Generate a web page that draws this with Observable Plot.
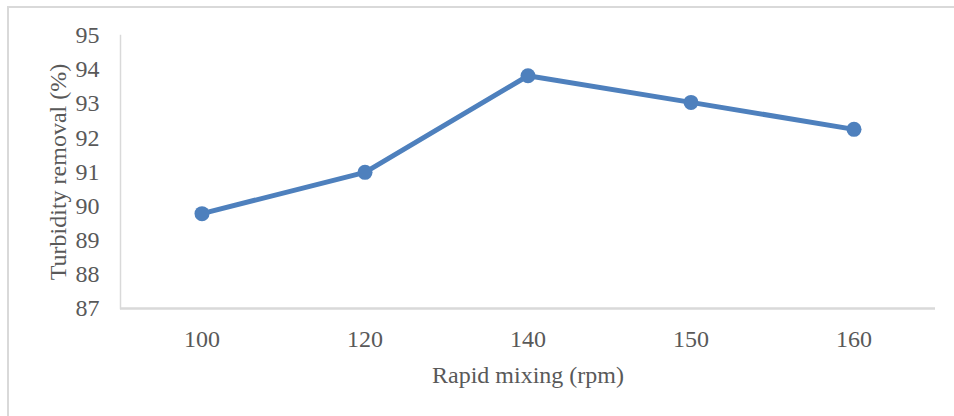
<!DOCTYPE html>
<html>
<head>
<meta charset="utf-8">
<script src="https://cdn.jsdelivr.net/npm/d3@7"></script>
<script src="https://cdn.jsdelivr.net/npm/@observablehq/plot@0.6"></script>
<style>
  html, body { margin: 0; padding: 0; background: #fff; overflow: hidden; width: 954px; height: 416px; }
  #wrap { position: relative; width: 954px; height: 416px; }
  #border { position: absolute; left: 7px; top: 6px; width: 1000px; height: 500px; border-left: 2px solid #d9d9d9; border-top: 2px solid #d9d9d9; box-sizing: border-box; }
  #chart { position: absolute; left: 0; top: 0; }
</style>
</head>
<body>
<div id="wrap"><div id="border"></div><div id="chart"></div></div>
<script>
const speeds = ["100", "120", "140", "150", "160"];
const removal = [89.78, 90.99, 93.82, 93.04, 92.25];
const yTicks = [87, 88, 89, 90, 91, 92, 93, 94, 95];

const data = speeds.map((s, i) => ({speed: s, value: removal[i]}));
const textColor = "#595959";
const font = "'Liberation Serif', 'Times New Roman', serif";
const fs = 24;

const chart = Plot.plot({
  width: 954,
  height: 416,
  marginLeft: 120,
  marginRight: 19,
  marginTop: 35,
  marginBottom: 108,
  style: {fontFamily: font, fontSize: fs + "px", color: textColor, background: "transparent", overflow: "visible"},
  x: {type: "band", domain: speeds, padding: 0, label: null},
  y: {domain: [87, 95], label: null},
  marks: [
    Plot.frame({anchor: "left", stroke: "#d9d9d9", strokeWidth: 1.5, strokeOpacity: 1}),
    Plot.ruleY([87], {stroke: "#d9d9d9", strokeWidth: 2.5}),
    Plot.axisY({ticks: yTicks, tickSize: 0, tickPadding: 21, fontSize: fs, fill: textColor, label: null}),
    Plot.axisX({tickSize: 0, tickPadding: 21, fontSize: fs, fill: textColor, label: null}),
    Plot.line(data, {x: "speed", y: "value", stroke: "#4e80bd", strokeWidth: 5}),
    Plot.dot(data, {x: "speed", y: "value", fill: "#4e80bd", r: 7.5}),
    Plot.text(["Rapid mixing (rpm)"], {frameAnchor: "bottom", dy: 67, fontSize: fs, fill: textColor, lineAnchor: "middle"}),
    Plot.text(["Turbidity removal (%)"], {frameAnchor: "left", dx: -62, rotate: -90, textAnchor: "middle", fontSize: fs, fill: textColor, lineAnchor: "middle"})
  ]
});
document.getElementById("chart").appendChild(chart);
</script>
</body>
</html>
